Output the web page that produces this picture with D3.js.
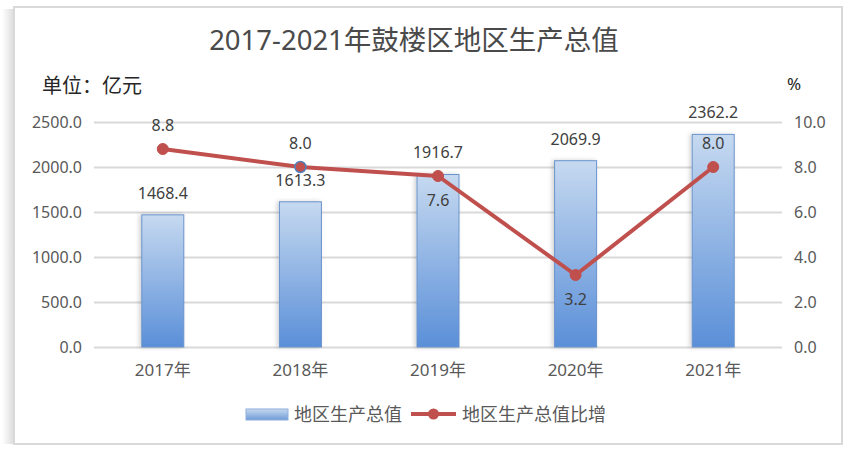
<!DOCTYPE html>
<html>
<head>
<meta charset="utf-8">
<script src="https://cdn.jsdelivr.net/npm/d3@7"></script>
<style>
  body { margin: 0; background: #fff; }
  text { font-family: "Noto Sans", "Noto Sans CJK SC", sans-serif; fill: #404040; }
</style>
</head>
<body>
<div id="chart"></div>
<script>
// data
var years = ["2017年", "2018年", "2019年", "2020年", "2021年"];
var gdp = [1468.4, 1613.3, 1916.7, 2069.9, 2362.2];
var growth = [8.8, 8.0, 7.6, 3.2, 8.0];
var leftTicks = [0, 500, 1000, 1500, 2000, 2500];
var rightTicks = [0, 2, 4, 6, 8, 10];
// where each growth label sits (above / below the point)
var growthLabelPos = ["up", "up", "down", "down", "up"];

var W = 845, H = 453;
var margin = {top: 122, right: 63, bottom: 106, left: 94},
    width = W - margin.left - margin.right,
    height = H - margin.top - margin.bottom;

var svg = d3.select("#chart")
  .append("svg")
    .attr("width", W)
    .attr("height", H);

var defs = svg.append("defs");
var grad = defs.append("linearGradient")
    .attr("id", "barGrad")
    .attr("x1", 0).attr("y1", 0).attr("x2", 0).attr("y2", 1);
grad.append("stop").attr("offset", "0%").attr("stop-color", "#c6d9f0");
grad.append("stop").attr("offset", "100%").attr("stop-color", "#5a8fd8");

var lgGrad = defs.append("linearGradient")
    .attr("id", "legGrad")
    .attr("x1", 0).attr("y1", 0).attr("x2", 0).attr("y2", 1);
lgGrad.append("stop").attr("offset", "0%").attr("stop-color", "#c6d9f0");
lgGrad.append("stop").attr("offset", "100%").attr("stop-color", "#6f9bd8");

var shadowGrad = defs.append("linearGradient")
    .attr("id", "frameShadow")
    .attr("x1", 0).attr("y1", 0).attr("x2", 1).attr("y2", 0);
shadowGrad.append("stop").attr("offset", "0%").attr("stop-color", "#fff");
shadowGrad.append("stop").attr("offset", "100%").attr("stop-color", "#dcdcdc");

var barShadow = defs.append("filter").attr("id", "barShadow")
    .attr("x", "-30%").attr("y", "-10%").attr("width", "160%").attr("height", "120%");
barShadow.append("feDropShadow")
    .attr("dx", -2).attr("dy", 0).attr("stdDeviation", 2)
    .attr("flood-color", "#000").attr("flood-opacity", 0.18);

// frame
svg.append("rect")
    .attr("x", 2).attr("y", 9).attr("width", 12).attr("height", 435)
    .attr("fill", "url(#frameShadow)");
svg.append("rect")
    .attr("x", 14).attr("y", 7).attr("width", 828).attr("height", 437)
    .attr("fill", "#fff")
    .attr("stroke", "#d9d9d9")
    .attr("stroke-width", 2);

// title and units
svg.append("text")
    .attr("x", 414)
    .attr("y", 50)
    .attr("text-anchor", "middle")
    .style("font-size", "27.5px")
    .style("fill", "#4a4a4a")
    .text("2017-2021年鼓楼区地区生产总值");

svg.append("text")
    .attr("x", 42)
    .attr("y", 93)
    .style("font-size", "20px")
    .style("fill", "#262626")
    .text("单位：亿元");

svg.append("text")
    .attr("x", 794)
    .attr("y", 90)
    .attr("text-anchor", "middle")
    .style("font-size", "17px")
    .style("fill", "#262626")
    .text("%");

var g = svg.append("g")
    .attr("transform", "translate(" + margin.left + "," + margin.top + ")");

// scales
var x = d3.scaleBand()
  .range([0, width])
  .domain(years)
  .padding(0);

var yL = d3.scaleLinear()
  .domain([0, 2500])
  .range([height, 0]);

var yR = d3.scaleLinear()
  .domain([0, 10])
  .range([height, 0]);

// gridlines
g.append("g")
  .call(d3.axisLeft(yL).tickValues(leftTicks).tickSize(-width).tickFormat(""))
  .call(function(s) {
    s.select(".domain").remove();
    s.selectAll("line").attr("stroke", "#d9d9d9").attr("stroke-width", 2);
  });

// left axis labels
g.append("g")
  .call(d3.axisLeft(yL).tickValues(leftTicks).tickSize(0).tickPadding(12)
    .tickFormat(d3.format(".1f")))
  .call(function(s) {
    s.select(".domain").remove();
    s.selectAll("text").style("font-size", "16px").style("fill", "#595959")
      .style("font-family", "'Noto Sans', sans-serif");
  });

// right axis labels
g.append("g")
  .attr("transform", "translate(" + width + ",0)")
  .call(d3.axisRight(yR).tickValues(rightTicks).tickSize(0).tickPadding(12)
    .tickFormat(d3.format(".1f")))
  .call(function(s) {
    s.select(".domain").remove();
    s.selectAll("text").style("font-size", "16px").style("fill", "#595959")
      .style("font-family", "'Noto Sans', sans-serif");
  });

// bottom axis labels
g.append("g")
  .attr("transform", "translate(0," + height + ")")
  .call(d3.axisBottom(x).tickSize(0).tickPadding(17))
  .call(function(s) {
    s.select(".domain").remove();
    s.selectAll("text").style("font-size", "17px").style("fill", "#595959")
      .style("font-family", "'Noto Sans', 'Noto Sans CJK SC', sans-serif");
  });

// bars
var barW = 42;
g.selectAll("rect.bar")
  .data(gdp)
  .enter()
  .append("rect")
    .attr("class", "bar")
    .attr("x", function(d, i) { return x(years[i]) + x.bandwidth() / 2 - barW / 2; })
    .attr("y", function(d) { return yL(d); })
    .attr("width", barW)
    .attr("height", function(d) { return height - yL(d); })
    .attr("fill", "url(#barGrad)")
    .attr("stroke", "#6a93cc")
    .attr("stroke-width", 1)
    .attr("filter", "url(#barShadow)");

// bar labels
g.selectAll("text.barLabel")
  .data(gdp)
  .enter()
  .append("text")
    .attr("class", "barLabel")
    .attr("x", function(d, i) { return x(years[i]) + x.bandwidth() / 2; })
    .attr("y", function(d) { return yL(d) - 16; })
    .attr("text-anchor", "middle")
    .style("font-size", "16px")
    .text(function(d) { return d.toFixed(1); });

// growth line
var line = d3.line()
  .x(function(d, i) { return x(years[i]) + x.bandwidth() / 2; })
  .y(function(d) { return yR(d); });

g.append("path")
  .datum(growth)
  .attr("fill", "none")
  .attr("stroke", "#c0504d")
  .attr("stroke-width", 4)
  .attr("stroke-linejoin", "round")
  .attr("d", line);

g.selectAll("circle.pt")
  .data(growth)
  .enter()
  .append("circle")
    .attr("class", "pt")
    .attr("cx", function(d, i) { return x(years[i]) + x.bandwidth() / 2; })
    .attr("cy", function(d) { return yR(d); })
    .attr("r", 5.5)
    .attr("fill", "#c0504d")
    .attr("stroke", function(d, i) { return i == 1 ? "#4f81bd" : "#c0504d"; })
    .attr("stroke-width", function(d, i) { return i == 1 ? 1.5 : 1; });

g.selectAll("text.ptLabel")
  .data(growth)
  .enter()
  .append("text")
    .attr("class", "ptLabel")
    .attr("x", function(d, i) { return x(years[i]) + x.bandwidth() / 2; })
    .attr("y", function(d, i) {
      return growthLabelPos[i] == "up" ? yR(d) - 18 : yR(d) + 30;
    })
    .attr("text-anchor", "middle")
    .style("font-size", "16px")
    .text(function(d) { return d.toFixed(1); });

// legend
var leg = svg.append("g");
leg.append("rect")
    .attr("x", 246).attr("y", 409).attr("width", 42).attr("height", 11)
    .attr("fill", "url(#legGrad)")
    .attr("stroke", "#8eb0dc").attr("stroke-width", 1);
leg.append("text")
    .attr("x", 294).attr("y", 421)
    .style("font-size", "18px")
    .style("fill", "#595959")
    .text("地区生产总值");
leg.append("line")
    .attr("x1", 411).attr("x2", 456).attr("y1", 414).attr("y2", 414)
    .attr("stroke", "#c0504d").attr("stroke-width", 4);
leg.append("circle")
    .attr("cx", 433.5).attr("cy", 414).attr("r", 5.5)
    .attr("fill", "#c0504d");
leg.append("text")
    .attr("x", 462).attr("y", 421)
    .style("font-size", "18px")
    .style("fill", "#595959")
    .text("地区生产总值比增");
</script>
</body>
</html>
